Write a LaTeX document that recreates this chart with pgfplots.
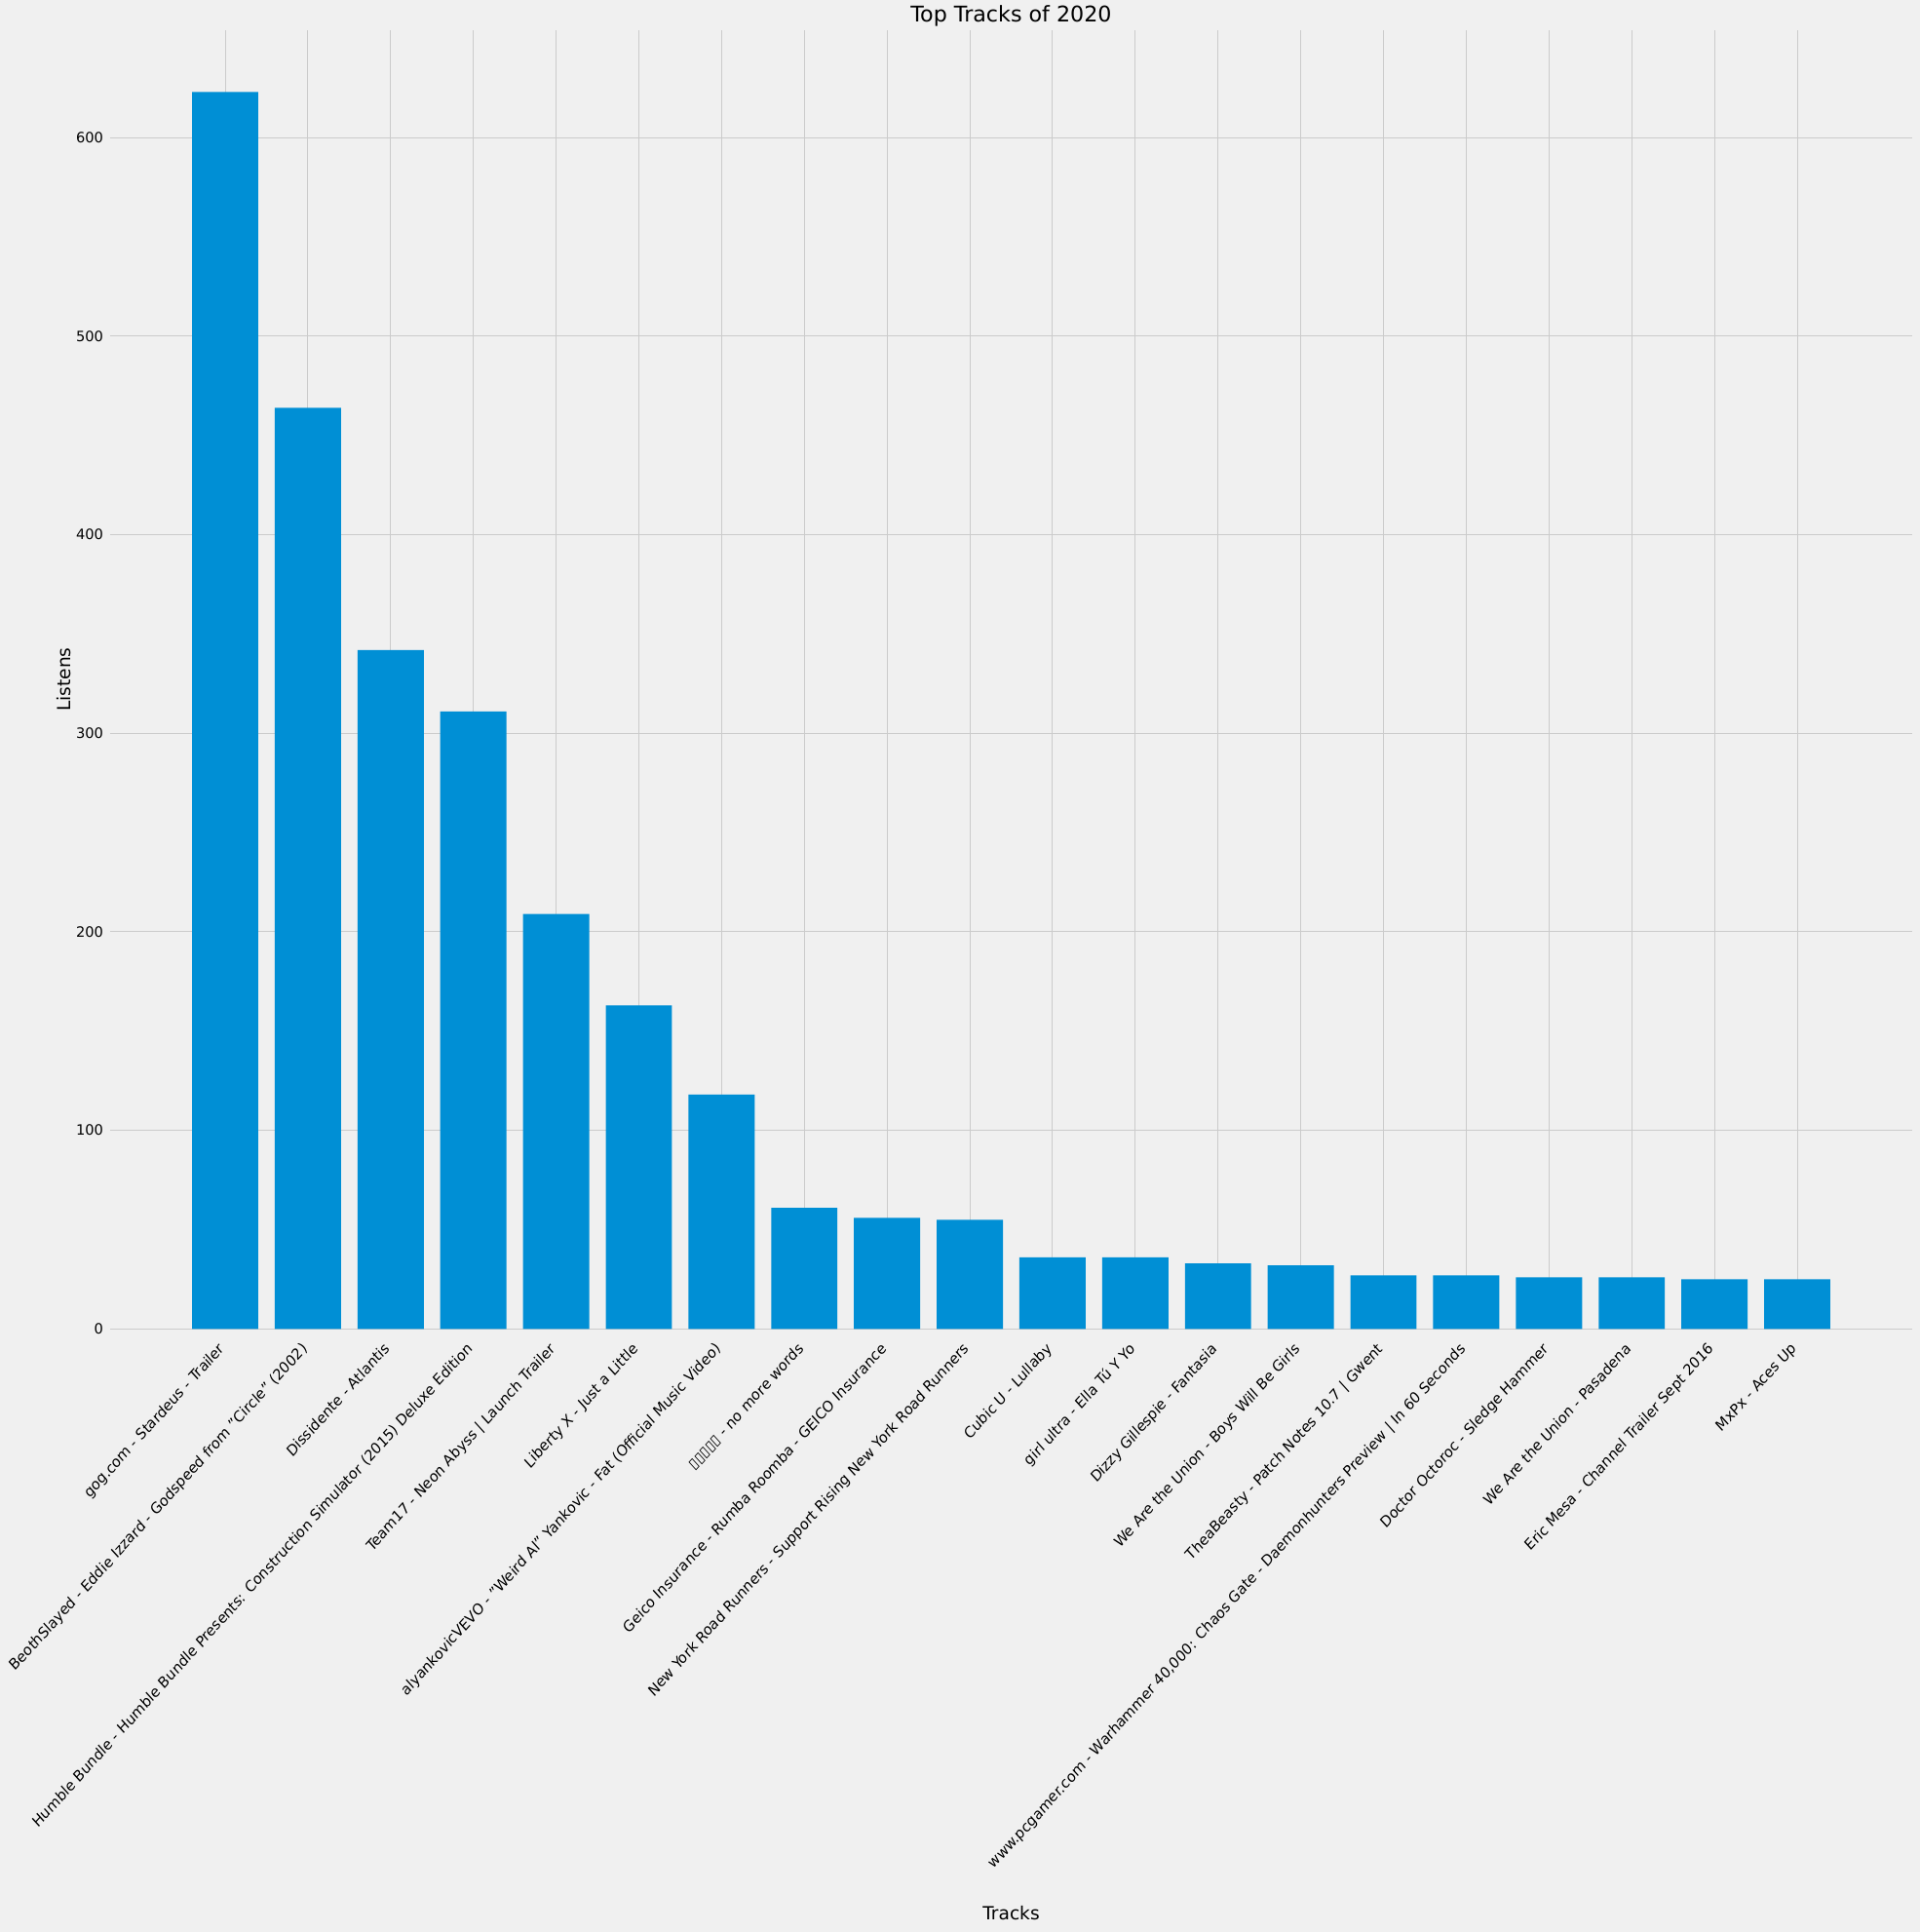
\documentclass[border=0pt]{standalone}
\usepackage{pgfplots}
\pgfplotsset{compat=1.18}
\usepackage{fontspec}
\setmainfont{DejaVu Sans}
\definecolor{bgc}{HTML}{F0F0F0}
\definecolor{barc}{HTML}{008FD5}
\definecolor{gridc}{HTML}{CBCBCB}
\begin{document}
\begin{tikzpicture}
\fill[bgc] (-56.5pt,-309.35pt) rectangle (928.5pt,681.65pt);
\useasboundingbox (-56.5pt,-309.35pt) rectangle (928.5pt,681.65pt);
\begin{axis}[
  at={(0,0)}, anchor=south west,
  scale only axis,
  width=924.5pt, height=666.15pt,
  xmin=-1.39, xmax=20.39,
  ymin=0, ymax=654.15,
  enlargelimits=false,
  ybar, bar width=0.8, bar shift=0pt,
  axis line style={draw=none},
  major tick length=0pt,
  tick style={draw=none},
  grid=major,
  major grid style={color=gridc, line width=0.5pt},
  xtick={0,...,19},
  ytick={0,100,...,600},
  /pgf/number format/assume math mode=true,
  yticklabel style={font=\fontsize{7.3}{8.8}\selectfont},
  xticklabel style={font=\fontsize{7.1}{8.5}\selectfont, xshift=-3.8pt, yshift=-1pt, yscale=1.1, rotate=45, anchor=north east},
  xticklabels={
    gog.com - Stardeus - Trailer,
    {BeothSlayed - Eddie Izzard - Godspeed from "Circle" (2002)},
    Dissidente - Atlantis,
    {Humble Bundle - Humble Bundle Presents: Construction Simulator (2015) Deluxe Edition},
    {Team17 - Neon Abyss | Launch Trailer},
    Liberty X - Just a Little,
    {alyankovicVEVO - "Weird Al" Yankovic - Fat (Official Music Video)},
    {▯▯▯▯▯ - no more words},
    Geico Insurance - Rumba Roomba - GEICO Insurance,
    New York Road Runners - Support Rising New York Road Runners,
    Cubic U - Lullaby,
    girl ultra - Ella Tú Y Yo,
    Dizzy Gillespie - Fantasia,
    We Are the Union - Boys Will Be Girls,
    {TheaBeasty - Patch Notes 10.7 | Gwent},
    {www.pcgamer.com - Warhammer 40,000: Chaos Gate - Daemonhunters Preview | In 60 Seconds},
    Doctor Octoroc - Sledge Hammer,
    We Are the Union - Pasadena,
    Eric Mesa - Channel Trailer Sept 2016,
    MxPx - Aces Up
  },
  title={Top Tracks of 2020},
  title style={font=\fontsize{11.1}{13.3}\selectfont, at={(axis description cs:0.5,1.011)}, anchor=center, yshift=-6pt},
  xlabel={Tracks},
  xlabel style={font=\fontsize{9.3}{11.2}\selectfont, at={(axis description cs:0.5,-0.4497)}, anchor=center},
  ylabel={Listens},
  ylabel style={font=\fontsize{9.3}{11.2}\selectfont, at={(axis description cs:-0.0254,0.5)}, anchor=center},
]
\addplot[fill=barc, draw=none] coordinates {
  (0,623) (1,464) (2,342) (3,311) (4,209) (5,163) (6,118) (7,61) (8,56) (9,55)
  (10,36) (11,36) (12,33) (13,32) (14,27) (15,27) (16,26) (17,26) (18,25) (19,25)
};
\end{axis}
\end{tikzpicture}
\end{document}
